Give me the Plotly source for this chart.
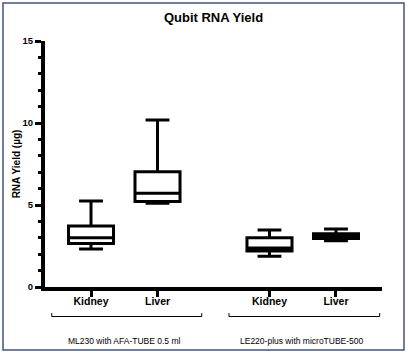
import plotly.graph_objects as go

# ---- data ----
categories = ["Kidney", "Liver", "Kidney", "Liver"]
x_pos = [1.0, 2.0, 3.684, 4.684]
lower_fence = [2.32, 5.10, 1.87, 2.82]
q1 = [2.66, 5.22, 2.20, 2.96]
median = [3.00, 5.71, 2.38, 3.10]
q3 = [3.72, 7.03, 3.00, 3.24]
upper_fence = [5.24, 10.18, 3.48, 3.53]
group_labels = ["ML230 with AFA-TUBE 0.5 ml", "LE220-plus with microTUBE-500"]
group_spans = [(0.409, 2.665), (3.075, 5.341)]
group_label_x = [1.50, 4.18]
y_ticks = [0, 5, 10, 15]

FONT = "Liberation Sans, Arial, sans-serif"

fig = go.Figure()
fig.add_trace(go.Box(
    x=x_pos, q1=q1, median=median, q3=q3,
    lowerfence=lower_fence, upperfence=upper_fence,
    width=0.677, whiskerwidth=0.53,
    line=dict(color="black", width=3), fillcolor="white",
    boxpoints=False, showlegend=False, hoverinfo="skip",
))

shapes = []
annotations = []
for (a, b), lab, cx in zip(group_spans, group_labels, group_label_x):
    shapes.append(dict(type="path", xref="x", yref="paper",
                       path=f"M {a},-0.106 L {a},-0.120 L {b},-0.120 L {b},-0.106",
                       line=dict(color="black", width=1)))
    annotations.append(dict(x=cx, y=-0.2195, xref="x", yref="paper", text=lab,
                            showarrow=False, font=dict(family=FONT, size=8.5, color="black"),
                            xanchor="center", yanchor="middle"))

# outer frame
shapes.append(dict(type="rect", xref="paper", yref="paper",
                   x0=-0.1246, x1=1.0653, y0=-0.256, y1=1.1545,
                   line=dict(color="#41547f", width=1.5)))

fig.update_layout(
    width=408, height=356,
    margin=dict(l=45, r=26, t=41, b=69),
    paper_bgcolor="white", plot_bgcolor="white",
    title=dict(text="<b>Qubit RNA Yield</b>", x=0.5, xref="paper", y=1 - 17.5 / 356,
               yanchor="middle", font=dict(family=FONT, size=13, color="black")),
    font=dict(family=FONT, color="black"),
    shapes=shapes, annotations=annotations,
)
fig.update_xaxes(
    range=[0.308, 5.376], tickvals=x_pos, ticktext=[f"<b>{c}</b>" for c in categories],
    ticks="outside", ticklen=6, tickwidth=3, tickcolor="black",
    showline=True, linewidth=4, linecolor="black",
    showgrid=False, zeroline=False, ticklabelstandoff=-5,
    tickfont=dict(family=FONT, size=10.5, color="black"),
)
fig.update_yaxes(
    range=[0, 15], tickvals=y_ticks, ticktext=[f"<b>{v}</b>" for v in y_ticks],
    ticks="outside", ticklen=6, tickwidth=3, tickcolor="black",
    minor=dict(dtick=1, ticks="outside", ticklen=3, tickwidth=3, tickcolor="black"),
    showline=True, linewidth=4, linecolor="black",
    showgrid=False, zeroline=False,
    tickfont=dict(family=FONT, size=9.5, color="black"),
    title=dict(text="<b>RNA Yield (µg)</b>", font=dict(family=FONT, size=10, color="black"), standoff=1),
)

fig.write_html(
    "out.html",
    config={"displayModeBar": False},
    post_script="document.body.style.margin='0';document.body.style.overflow='hidden';",
)
